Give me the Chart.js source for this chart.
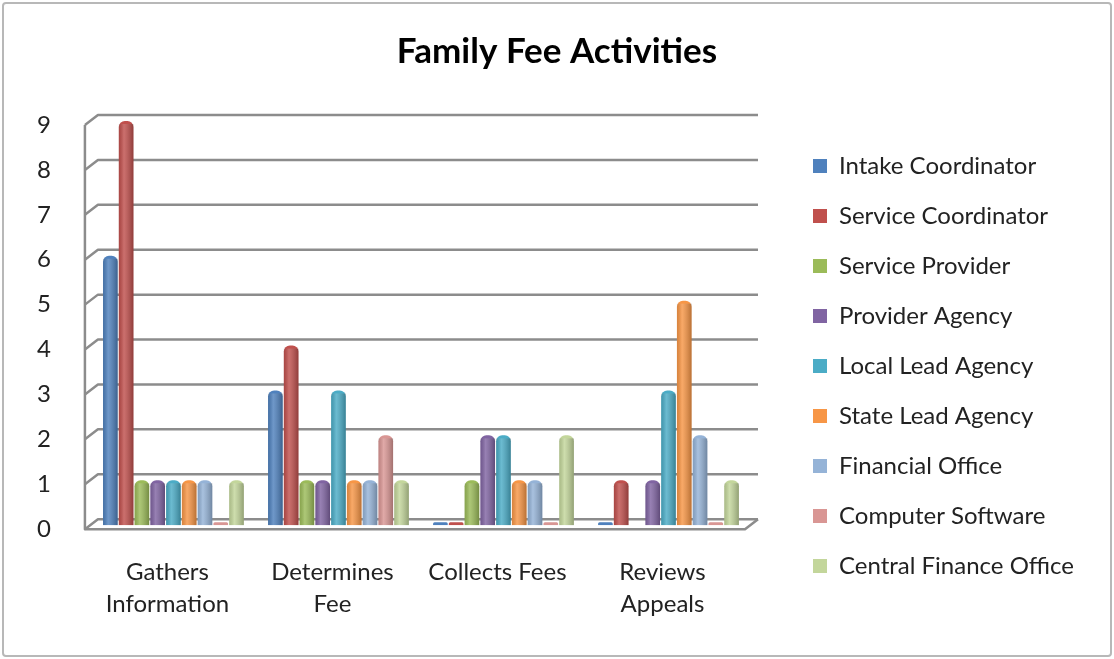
<!DOCTYPE html>
<html>
<head>
<meta charset="utf-8">
<style>
    html, body {
        margin: 0;
        background: #fff;
    }
    .frame {
        position: absolute;
        left: 2px;
        top: 2px;
        width: 1106px;
        height: 651px;
        border: 2px solid #b8b8b8;
        border-radius: 4px;
    }
    canvas {
        position: absolute;
        left: 0;
        top: 0;
    }
</style>
<script src="https://cdn.jsdelivr.net/npm/chart.js"></script>
</head>
<body>
<div class="frame"></div>
<canvas id="myChart" width="1114" height="659"></canvas>
<script>
    const categories = [['Gathers', 'Information'], ['Determines', 'Fee'], 'Collects Fees', ['Reviews', 'Appeals']]
    const yTicks = [0, 1, 2, 3, 4, 5, 6, 7, 8, 9]

    const intakeCoordinator = [6, 3, 0, 0]
    const serviceCoordinator = [9, 4, 0, 1]
    const serviceProvider = [1, 1, 1, null]
    const providerAgency = [1, 1, 2, 1]
    const localLeadAgency = [1, 3, 2, 3]
    const stateLeadAgency = [1, 1, 1, 5]
    const financialOffice = [1, 1, 1, 2]
    const computerSoftware = [0, 2, 0, 0]
    const centralFinanceOffice = [1, 1, 2, 1]

    const series = [
        ['Intake Coordinator', intakeCoordinator, '#4F81BD'],
        ['Service Coordinator', serviceCoordinator, '#C0504D'],
        ['Service Provider', serviceProvider, '#9BBB59'],
        ['Provider Agency', providerAgency, '#8064A2'],
        ['Local Lead Agency', localLeadAgency, '#4BACC6'],
        ['State Lead Agency', stateLeadAgency, '#F79646'],
        ['Financial Office', financialOffice, '#95B3D7'],
        ['Computer Software', computerSoftware, '#D99694'],
        ['Central Finance Office', centralFinanceOffice, '#C3D69B']
    ]

    // fake 3D depth: back wall is shifted this much from the front edge
    const DX = 13, DY = -10
    const LEGEND_W = 358, LEGEND_BOX_X = 813, LEGEND_TOP = 128, LEGEND_PAD = 26

    // fixed legend placement
    const legendPlace = {
        id: 'legendPlace',
        beforeInit(chart) {
            const fit = chart.legend.fit
            chart.legend.fit = function () {
                fit.call(this)
                this.width = LEGEND_W
            }
        },
        afterLayout(chart) {
            const lg = chart.legend
            lg.left = LEGEND_BOX_X - LEGEND_PAD
            lg.width = lg.right - lg.left
            lg.top = LEGEND_TOP
        }
    }

    // walls, floor and gridlines
    const walls = {
        id: 'walls',
        beforeDatasetsDraw(chart) {
            const c = chart.ctx
            const a = chart.chartArea
            const y = chart.scales.y
            c.save()
            c.strokeStyle = '#8c8c8c'
            c.lineWidth = 2.5
            c.lineJoin = 'round'
            yTicks.forEach((v) => {
                const p = y.getPixelForValue(v)
                c.beginPath()
                c.moveTo(a.left, p)
                c.lineTo(a.left + DX, p + DY)
                c.lineTo(a.right + DX, p + DY)
                c.stroke()
            })
            c.beginPath()
            c.moveTo(a.left, y.getPixelForValue(9))
            c.lineTo(a.left, a.bottom)
            c.lineTo(a.right, a.bottom)
            c.lineTo(a.right + DX, a.bottom + DY)
            c.stroke()
            c.restore()
            // bars sit half way into the depth
            c.save()
            c.translate(6, -4)
        },
        afterDatasetsDraw(chart) {
            const c = chart.ctx
            chart.data.datasets.forEach((ds, i) => {
                chart.getDatasetMeta(i).data.forEach((bar) => {
                    const w = bar.width
                    const x0 = bar.x - w / 2
                    const h = bar.base - bar.y
                    if (h <= 4) return
                    const g = c.createLinearGradient(x0, 0, x0 + w, 0)
                    g.addColorStop(0, 'rgba(0,0,0,0.12)')
                    g.addColorStop(0.35, 'rgba(255,255,255,0.18)')
                    g.addColorStop(1, 'rgba(0,0,0,0.25)')
                    c.fillStyle = g
                    c.fillRect(x0, bar.y + 3, w, h - 3)
                })
            })
            c.restore()
        }
    }

    const ctx = document.getElementById('myChart')
    var chart = new Chart(ctx, {
        type: 'bar',
        data: {
            labels: categories,
            datasets: series.map(([label, data, color]) => ({
                label: label,
                data: data,
                backgroundColor: color,
                borderWidth: 0,
                borderRadius: { topLeft: 6, topRight: 6 },
                borderSkipped: 'bottom',
                minBarLength: 3,
                categoryPercentage: 0.86,
                barPercentage: 0.93
            }))
        },
        options: {
            responsive: false,
            animation: false,
            layout: {
                padding: { left: 11, right: 11, top: 10, bottom: 20 }
            },
            scales: {
                x: {
                    grid: { display: false },
                    border: { display: false },
                    ticks: {
                        color: '#222',
                        padding: 19,
                        font: { family: 'Lato', size: 24, lineHeight: 1.33 },
                        maxRotation: 0,
                        autoSkip: false
                    }
                },
                y: {
                    min: 0,
                    max: 9,
                    afterBuildTicks(axis) {
                        axis.ticks = yTicks.map((v) => ({ value: v }))
                    },
                    grid: { display: false },
                    border: { display: false },
                    ticks: {
                        color: '#222',
                        padding: 26,
                        font: { family: 'Lato', size: 24 }
                    }
                }
            },
            plugins: {
                title: {
                    display: true,
                    text: 'Family Fee Activities',
                    color: '#000',
                    font: { family: 'Lato', size: 35, weight: 'bold' },
                    padding: { top: 21, bottom: 52 }
                },
                legend: {
                    position: 'right',
                    align: 'start',
                    labels: {
                        color: '#222',
                        boxWidth: 14,
                        boxHeight: 14,
                        padding: LEGEND_PAD,
                        font: { family: 'Lato', size: 24 }
                    }
                },
                tooltip: { enabled: false }
            }
        },
        plugins: [legendPlace, walls]
    })
</script>
</body>
</html>
